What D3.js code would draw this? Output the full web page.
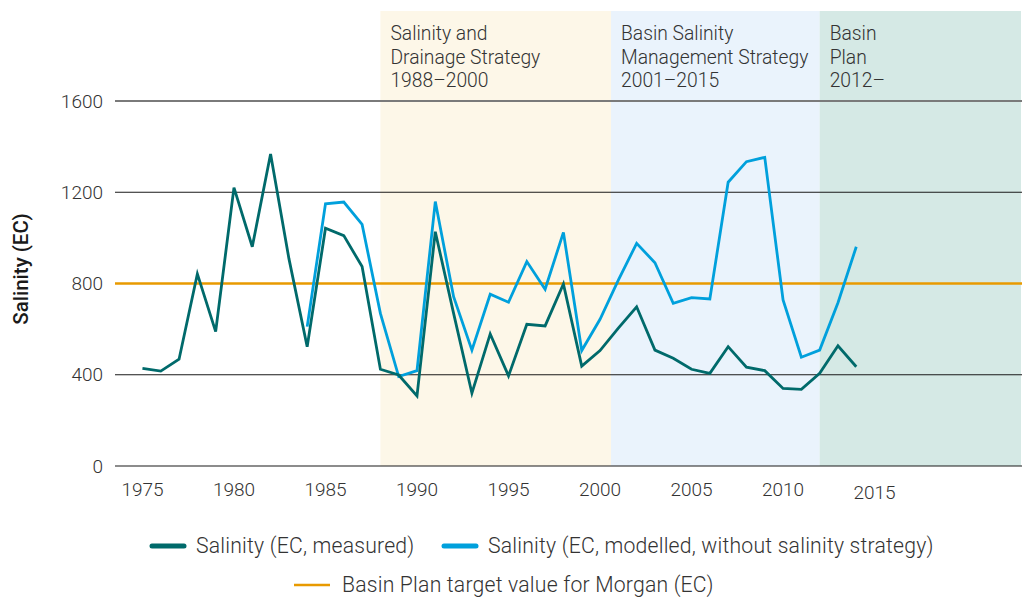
<!DOCTYPE html>
<html>
<head>
<meta charset="utf-8">
<script src="https://cdn.jsdelivr.net/npm/d3@7"></script>
<style>
  html, body { margin: 0; padding: 0; background: #fff; }
  svg { display: block; font-family: Roboto, "Noto Sans", sans-serif; }
</style>
</head>
<body>
<div id="chart"></div>
<script>
// Data
const years = d3.range(1975, 2015);
const measured = [428, 416, 468, 842, 589, 1220, 961, 1368, 910, 523,
                  1042, 1010, 874, 424, 399, 307, 1027, 669, 319, 579,
                  395, 621, 614, 798, 438, 506, 604, 698, 508, 472,
                  424, 406, 523, 433, 418, 340, 336, 406, 527, 435];
const modelledYears = d3.range(1984, 2015);
const modelled = [611, 1149, 1157, 1059, 669, 392, 418, 1159, 742, 508,
                  753, 718, 896, 775, 1024, 506, 643, 815, 976, 891,
                  713, 738, 732, 1244, 1334, 1353, 728, 477, 508, 716, 961];
const targetValue = 800;

const periods = [
  { start: 1988, end: 2000.6, lines: ['Salinity and', 'Drainage Strategy', '1988–2000'], fill: '#fdf7e8' },
  { start: 2000.6, end: 2012, lines: ['Basin Salinity', 'Management Strategy', '2001–2015'], fill: '#eaf3fc' },
  { start: 2012, end: 2023, lines: ['Basin', 'Plan', '2012–'], fill: '#d5e9e5' }
];
const yTicks = [0, 400, 800, 1200, 1600];
const xTicks = [1975, 1980, 1985, 1990, 1995, 2000, 2005, 2010, 2015];

const colors = { measured: '#006a6b', modelled: '#00a0dc', target: '#e89a00', text: '#333' };

const W = 1022, H = 597;
const svg = d3.select('#chart').append('svg').attr('width', W).attr('height', H);

const x = d3.scaleLinear().domain([1973.5, 2023]).range([115, 1021]);
const y = d3.scaleLinear().domain([0, 1600]).range([466, 101]);

// Period bands
svg.selectAll('rect.band')
  .data(periods)
  .join('rect')
  .attr('class', 'band')
  .attr('x', d => x(d.start))
  .attr('y', 11)
  .attr('width', d => x(d.end) - x(d.start))
  .attr('height', y(0) - 11)
  .attr('fill', d => d.fill);

periods.forEach(p => {
  const t = svg.append('text')
    .attr('x', x(p.start) + 10)
    .attr('y', 40)
    .attr('font-size', '19.3px')
    .attr('font-weight', 300)
    .attr('fill', colors.text);
  p.lines.forEach((l, i) => {
    t.append('tspan').attr('x', x(p.start) + 10).attr('dy', i === 0 ? 0 : 23.7).text(l);
  });
});

// Gridlines
svg.selectAll('line.grid')
  .data(yTicks.filter(v => v !== targetValue))
  .join('line')
  .attr('class', 'grid')
  .attr('x1', x(1973.5))
  .attr('x2', W)
  .attr('y1', d => y(d))
  .attr('y2', d => y(d))
  .attr('stroke', d => d === 1600 ? '#7a7a7a' : '#1a1a1a')
  .attr('stroke-width', d => d === 1600 ? 2 : 1.2);

// Y tick labels
svg.selectAll('text.ytick')
  .data(yTicks)
  .join('text')
  .attr('class', 'ytick')
  .attr('x', 103)
  .attr('y', d => y(d))
  .attr('dy', '0.35em')
  .attr('text-anchor', 'end')
  .attr('font-size', '19px')
  .attr('font-weight', 300)
  .attr('fill', colors.text)
  .text(d => d);

// X tick labels
svg.selectAll('text.xtick')
  .data(xTicks)
  .join('text')
  .attr('class', 'xtick')
  .attr('x', d => x(d))
  .attr('y', d => d === 2015 ? 499 : 496)
  .attr('text-anchor', 'middle')
  .attr('font-size', '19px')
  .attr('font-weight', 300)
  .attr('fill', colors.text)
  .text(d => d);

// Y axis title
svg.append('text')
  .attr('transform', 'translate(28,269) rotate(-90)')
  .attr('text-anchor', 'middle')
  .attr('font-size', '20.5px')
  .attr('font-weight', 500)
  .attr('fill', '#1a1a1a')
  .text('Salinity (EC)');

// Target line
svg.append('line')
  .attr('x1', x(1973.5))
  .attr('x2', W)
  .attr('y1', y(targetValue))
  .attr('y2', y(targetValue))
  .attr('stroke', colors.target)
  .attr('stroke-width', 2.5);

const line = d3.line().x(d => x(d[0])).y(d => y(d[1]));

svg.append('path')
  .datum(modelledYears.map((yr, i) => [yr, modelled[i]]))
  .attr('d', line)
  .attr('fill', 'none')
  .attr('stroke', colors.modelled)
  .attr('stroke-width', 2.8)
  .attr('stroke-linejoin', 'miter');

svg.append('path')
  .datum(years.map((yr, i) => [yr, measured[i]]))
  .attr('d', line)
  .attr('fill', 'none')
  .attr('stroke', colors.measured)
  .attr('stroke-width', 2.8)
  .attr('stroke-linejoin', 'miter');

// Legend
const legend = [
  { label: 'Salinity (EC, measured)', color: colors.measured, x: 152, y: 546, w: 5, len: 32 },
  { label: 'Salinity (EC, modelled, without salinity strategy)', color: colors.modelled, x: 444, y: 546, w: 5, len: 32 },
  { label: 'Basin Plan target value for Morgan (EC)', color: colors.target, x: 294, y: 585, w: 2.5, len: 36 }
];
legend.forEach(l => {
  svg.append('line')
    .attr('x1', l.x).attr('x2', l.x + l.len)
    .attr('y1', l.y).attr('y2', l.y)
    .attr('stroke', l.color)
    .attr('stroke-width', l.w)
    .attr('stroke-linecap', l.w > 3 ? 'round' : 'butt');
  svg.append('text')
    .attr('x', l.x + l.len + 12)
    .attr('y', l.y)
    .attr('dy', '0.35em')
    .attr('font-size', '21.2px')
    .attr('font-weight', 300)
    .attr('letter-spacing', '0.2px')
    .attr('fill', colors.text)
    .text(l.label);
});
</script>
</body>
</html>
